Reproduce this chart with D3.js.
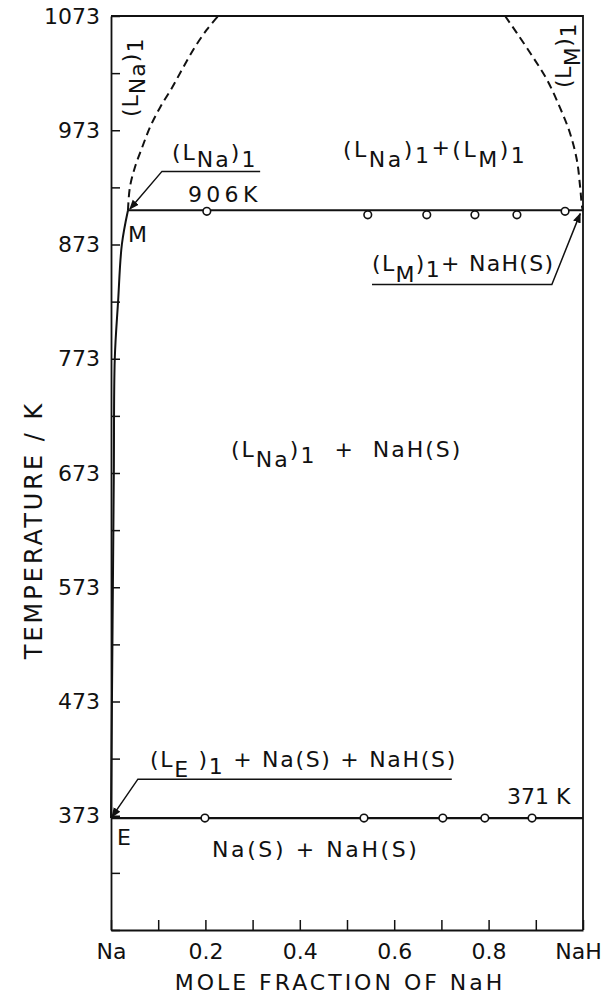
<!DOCTYPE html>
<html>
<head>
<meta charset="utf-8">
<script src="https://cdn.jsdelivr.net/npm/d3@7"></script>
<style>
  body { margin: 0; background: #fff; }
  text { font-family: "DejaVu Sans", sans-serif; fill: #111; }
</style>
</head>
<body>
<script>
// axis ticks
const xTicks = [0, 0.1, 0.2, 0.3, 0.4, 0.5, 0.6, 0.7, 0.8, 0.9, 1];
const xTickLabels = ["Na", "", "0.2", "", "0.4", "", "0.6", "", "0.8", "", "NaH"];
const yTicks = [273, 323, 373, 423, 473, 523, 573, 623, 673, 723, 773, 823, 873, 923, 973, 1023, 1073];
const yLabelled = [373, 473, 573, 673, 773, 873, 973, 1073];

// invariant lines (K)
const monotecticT = 903;
const eutecticT = 371;

// measured points on the two horizontals
const monoX = [0.203, 0.544, 0.669, 0.771, 0.860, 0.962];
const monoT = [902, 899, 899, 899, 899, 902];
const eutX = [0.199, 0.536, 0.703, 0.792, 0.892];
const eutT = [371, 371, 371, 371, 371];

// liquidus on the Na side, E -> M (solid)
const liqNaX = [0, 0.002, 0.004, 0.006, 0.008, 0.015, 0.023, 0.036];
const liqNaT = [371, 473, 573, 673, 773, 823, 873, 903];

// (L_Na)1 miscibility boundary (dashed)
const gapNaX = [0.036, 0.040, 0.051, 0.066, 0.083, 0.104, 0.129, 0.153, 0.178, 0.203, 0.227];
const gapNaT = [903, 923, 941, 958, 976, 993, 1010, 1028, 1046, 1061, 1073];

// (L_M)1 miscibility boundary (dashed)
const gapMX = [0.835, 0.860, 0.894, 0.924, 0.951, 0.972, 0.987, 0.994, 0.998, 1.0];
const gapMT = [1073, 1058, 1037, 1017, 993, 971, 947, 923, 906, 903];

const width = 606, height = 995;
const svg = d3.select("body").append("svg")
  .attr("width", width)
  .attr("height", height);

const x = d3.scaleLinear().domain([0, 1]).range([111, 583]);
const y = d3.scaleLinear().domain([273, 1073]).range([930, 16]);

svg.append("defs").append("marker")
  .attr("id", "arrow")
  .attr("viewBox", "0 0 10 10")
  .attr("refX", 9).attr("refY", 5)
  .attr("markerWidth", 10).attr("markerHeight", 10)
  .attr("markerUnits", "userSpaceOnUse")
  .attr("orient", "auto")
  .append("path")
  .attr("d", "M0,1 L10,5 L0,9 Z")
  .attr("fill", "#111");

// axes, ticks pointing inward
const xAxis = svg.append("g")
  .attr("transform", `translate(0,${y(273)})`)
  .call(d3.axisBottom(x)
    .tickValues(xTicks)
    .tickSize(-10)
    .tickSizeOuter(0)
    .tickPadding(13)
    .tickFormat((d, i) => xTickLabels[i]));

const yAxis = svg.append("g")
  .attr("transform", `translate(${x(0)},0)`)
  .call(d3.axisLeft(y)
    .tickValues(yTicks)
    .tickSize(-9)
    .tickSizeOuter(0)
    .tickPadding(11)
    .tickFormat(d => yLabelled.includes(d) ? d : ""));

[xAxis, yAxis].forEach(a => {
  a.selectAll(".domain").attr("stroke", "#111").attr("stroke-width", 1.8);
  a.selectAll(".tick line").attr("stroke", "#111").attr("stroke-width", 1.5);
  a.selectAll(".tick text")
    .attr("fill", "#111")
    .style("font-size", "22px");
});
xAxis.selectAll(".tick text").filter((d, i) => i === xTicks.length - 1).attr("dx", -5);

// top and right frame
svg.append("path")
  .attr("d", `M${x(0)},${y(1073)}H${x(1)}V${y(273)}`)
  .attr("fill", "none")
  .attr("stroke", "#111")
  .attr("stroke-width", 1.8);

const line = d3.line()
  .x(d => x(d[0]))
  .y(d => y(d[1]))
  .curve(d3.curveCatmullRom);

svg.append("path")
  .datum(liqNaX.map((v, i) => [v, liqNaT[i]]))
  .attr("d", line)
  .attr("fill", "none").attr("stroke", "#111").attr("stroke-width", 2);

svg.append("path")
  .datum(gapNaX.map((v, i) => [v, gapNaT[i]]))
  .attr("d", line)
  .attr("fill", "none").attr("stroke", "#111").attr("stroke-width", 2)
  .attr("stroke-dasharray", "8,5");

svg.append("path")
  .datum(gapMX.map((v, i) => [v, gapMT[i]]))
  .attr("d", line)
  .attr("fill", "none").attr("stroke", "#111").attr("stroke-width", 2)
  .attr("stroke-dasharray", "8,5");

// monotectic and eutectic horizontals
svg.append("line")
  .attr("x1", x(liqNaX[liqNaX.length - 1])).attr("x2", x(1))
  .attr("y1", y(monotecticT)).attr("y2", y(monotecticT))
  .attr("stroke", "#111").attr("stroke-width", 2.2);
svg.append("line")
  .attr("x1", x(0)).attr("x2", x(1))
  .attr("y1", y(eutecticT)).attr("y2", y(eutecticT))
  .attr("stroke", "#111").attr("stroke-width", 2.2);

const pts = monoX.map((v, i) => [v, monoT[i]]).concat(eutX.map((v, i) => [v, eutT[i]]));
svg.selectAll("circle.pt")
  .data(pts)
  .enter()
  .append("circle")
  .attr("class", "pt")
  .attr("cx", d => x(d[0]))
  .attr("cy", d => y(d[1]))
  .attr("r", 3.8)
  .attr("fill", "#fff")
  .attr("stroke", "#111")
  .attr("stroke-width", 1.6);

// leader lines with arrow heads
const leaders = [
  [[0.316, 937], [0.108, 937], [0.040, 904]],
  [[0.553, 838], [0.934, 838], [0.994, 900]],
  [[0.722, 405], [0.057, 405], [0.002, 372]]
];
svg.selectAll("path.leader")
  .data(leaders)
  .enter()
  .append("path")
  .attr("class", "leader")
  .attr("d", d3.line().x(d => x(d[0])).y(d => y(d[1])))
  .attr("fill", "none")
  .attr("stroke", "#111")
  .attr("stroke-width", 1.5)
  .attr("marker-end", "url(#arrow)");

// labels with subscripts: parts are [text, baseline shift]
function label(px, py, parts, opts = {}) {
  const t = svg.append("text")
    .attr("transform", `translate(${px},${py})` + (opts.rotate ? ` rotate(${opts.rotate})` : ""))
    .attr("text-anchor", opts.anchor || "start")
    .style("font-size", (opts.size || 22) + "px")
    .style("letter-spacing", (opts.spacing == null ? 2 : opts.spacing) + "px")
    .style("white-space", "pre");
  let cur = 0;
  parts.forEach(([s, off]) => {
    t.append("tspan").attr("dy", off - cur).text(s);
    cur = off;
  });
  return t;
}

label(231, 457, [["(L", 0], ["Na", 10], [")", 0], ["1", 6], ["  +  NaH(S)", 0]], { spacing: 2 });
label(343, 157, [["(L", 0], ["Na", 10], [")", 0], ["1", 6], ["+", -2], ["(L", 0], ["M", 10], [")", 0], ["1", 6]], { spacing: 2.5 });
label(372, 271, [["(L", 0], ["M", 11], [")", 0], ["1", 6], ["+ NaH(S)", 0]], { spacing: 1.3 });
label(172, 160, [["(L", 0], ["Na", 7], [")", 0], ["1", 7]], { spacing: 2 });
label(150, 767, [["(L", 0], ["E", 10], [" )", 0], ["1", 7], [" + Na(S) + NaH(S)", 0]], { spacing: 1.7 });
label(212, 857, [["Na(S) + NaH(S)", 0]], { spacing: 2.6 });
label(188, 202, [["906K", 0]], { spacing: 4.3 });
label(507, 804, [["371 K", 0]], { spacing: 0 });
label(128, 242, [["M", 0]], { spacing: 0 });
label(117, 845, [["E", 0]], { spacing: 0 });
label(138, 117, [["(L", 0], ["Na", 7], [")", 0], ["1", 5]], { rotate: -90, spacing: 1 });
label(571, 88, [["(L", 0], ["M", 9], [")", 0], ["1", 5]], { rotate: -90, spacing: 0.5 });

// axis titles
label(340, 990, [["MOLE FRACTION OF NaH", 0]], { anchor: "middle", size: 22, spacing: 3 });
label(42, 530, [["TEMPERATURE / K", 0]], { anchor: "middle", size: 24, spacing: 3, rotate: -90 });
</script>
</body>
</html>
